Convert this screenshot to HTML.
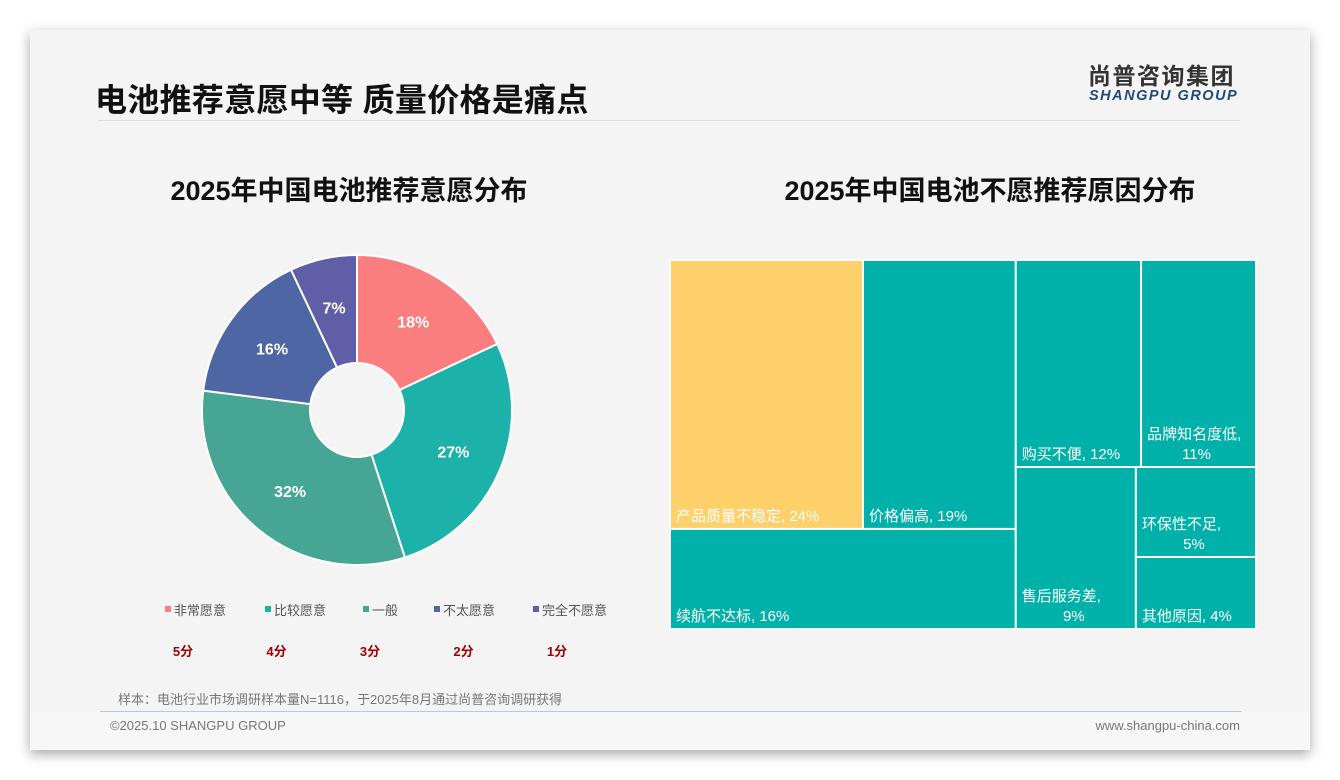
<!DOCTYPE html>
<html><head><meta charset="utf-8"><style>
body{margin:0;width:1340px;height:780px;background:#fff;overflow:hidden;font-family:"Liberation Sans","Noto Sans CJK SC",sans-serif;}
#card{position:absolute;left:30px;top:30px;width:1280px;height:720px;background:#f4f4f4;box-shadow:0 4px 12px rgba(0,0,0,0.35);}
.abs{position:absolute;}
</style></head><body>
<div id="card">
  <div class="abs" style="left:65px;top:45px;font-size:32px;font-weight:bold;color:#111;letter-spacing:0.3px;">电池推荐意愿中等 质量价格是痛点</div>
  <div class="abs" style="left:68px;top:90px;width:1142px;height:1px;background:#dcdcdc;"></div>
  <div class="abs" style="left:1058px;top:35px;font-size:23px;line-height:1;font-weight:bold;color:#333;letter-spacing:1.5px;">尚普咨询集团</div>
  <div class="abs" style="left:1059px;top:59px;font-size:14.5px;line-height:1;font-weight:bold;font-style:italic;color:#1f4a7a;letter-spacing:1.5px;">SHANGPU GROUP</div>
  <div class="abs" style="left:79px;top:139px;width:480px;text-align:center;font-size:27px;font-weight:bold;color:#111;">2025年中国电池推荐意愿分布</div>
  <div class="abs" style="left:710px;top:139px;width:500px;text-align:center;font-size:27px;font-weight:bold;color:#111;">2025年中国电池不愿推荐原因分布</div>
  <div class="abs" style="left:88px;top:659px;font-size:13px;color:#777;">样本：电池行业市场调研样本量N=1116，于2025年8月通过尚普咨询调研获得</div>
  <div class="abs" style="left:70px;top:681px;width:1142px;height:1px;background:#b9c9d8;"></div>
  <div class="abs" style="left:0;top:682px;width:1280px;height:38px;background:#f7f7f7;"></div>
  <div class="abs" style="left:80px;top:688px;font-size:13px;color:#777;">©2025.10 SHANGPU GROUP</div>
  <div class="abs" style="left:1040px;top:688px;width:170px;text-align:right;font-size:13px;color:#777;">www.shangpu-china.com</div>
</div>
<svg id="chart" class="abs" style="left:0;top:0" width="1340" height="780"></svg>
<script>
const pieCats=["非常愿意","比较愿意","一般","不太愿意","完全不愿意"];
const pieVals=[18,27,32,16,7];
const pieScores=["5分","4分","3分","2分","1分"];
const pieColors=["#fa7d80","#1db2a9","#47a593","#4e66a3","#605ea6"];
const tmCats=["产品质量不稳定","价格偏高","续航不达标","购买不便","品牌知名度低","售后服务差","环保性不足","其他原因"];
const tmVals=[24,19,16,12,11,9,5,4];
const NS="http://www.w3.org/2000/svg";
const svg=document.getElementById('chart');
function mk(t,a,p){const e=document.createElementNS(NS,t);for(const k in a)e.setAttribute(k,a[k]);(p||svg).appendChild(e);return e;}
const legendX=[165,265,363,434,533];
// pie
const cx=357,cy=410,R=155,r0=47;
const tot=pieVals.reduce((a,b)=>a+b,0);
let ang=0;
pieVals.forEach((v,i)=>{
  const a0=ang/tot*2*Math.PI, a1=(ang+v)/tot*2*Math.PI; ang+=v;
  const p=(a,rr)=>[cx+rr*Math.sin(a),cy-rr*Math.cos(a)];
  const [x0,y0]=p(a0,R),[x1,y1]=p(a1,R),[x2,y2]=p(a1,r0),[x3,y3]=p(a0,r0);
  const lg=(a1-a0)>Math.PI?1:0;
  const path=mk('path',{d:`M${x0},${y0}A${R},${R} 0 ${lg} 1 ${x1},${y1}L${x2},${y2}A${r0},${r0} 0 ${lg} 0 ${x3},${y3}Z`,fill:pieColors[i],stroke:'#fff','stroke-width':2});
  
  
  const am=(a0+a1)/2,[lx,ly]=p(am,105);
  const t=mk('text',{x:lx,y:ly+6,'text-anchor':'middle','font-size':16,'font-weight':'bold',fill:'#fff'});
  t.textContent=v+'%';
  
  
  const lxp=legendX[i];
  const sq=mk('rect',{x:lxp,y:606,width:6,height:6,fill:pieColors[i]});
  
  
  const lt=mk('text',{x:lxp+9,y:615,'font-size':13,fill:'#555'});
  lt.textContent=pieCats[i];
  
  
  const st=mk('text',{x:183+i*93.5,y:656,'text-anchor':'middle','font-size':13,'font-weight':'bold',fill:'#a00000'});
  st.textContent=pieScores[i];
  
  
});
// treemap
const X0=670,Y0=260,W=586,H=369;
const T=tmVals.reduce((a,b)=>a+b,0);
const rects=[];
const leftSum=tmVals[0]+tmVals[1]+tmVals[2];
const lw=W*leftSum/T;
const th=H*(tmVals[0]+tmVals[1])/leftSum;
const w0=lw*tmVals[0]/(tmVals[0]+tmVals[1]);
rects.push([X0,Y0,w0,th],[X0+w0,Y0,lw-w0,th],[X0,Y0+th,lw,H-th]);
const rs=T-leftSum, rw=W-lw, rx=X0+lw;
const rth=H*(tmVals[3]+tmVals[4])/rs;
const w3=rw*tmVals[3]/(tmVals[3]+tmVals[4]);
rects.push([rx,Y0,w3,rth],[rx+w3,Y0,rw-w3,rth]);
const bs=tmVals[5]+tmVals[6]+tmVals[7];
const w5=rw*tmVals[5]/bs, bh=H-rth;
const h6=bh*tmVals[6]/(tmVals[6]+tmVals[7]);
rects.push([rx,Y0+rth,w5,bh],[rx+w5,Y0+rth,rw-w5,h6],[rx+w5,Y0+rth+h6,rw-w5,bh-h6]);
rects.forEach((b,i)=>{
  const e=mk('rect',{x:b[0],y:b[1],width:b[2],height:b[3],fill:i==0?'#fdd06a':'#00b1a9',stroke:'#fff','stroke-width':2});
  
  
  const lbl=tmCats[i]+', '+tmVals[i]+'%';
  const twoLine=(15*tmCats[i].length+40)>(b[2]-10);
  const bot=b[1]+b[3];
  if(twoLine){
    const t1=mk('text',{x:b[0]+6,y:bot-28,'font-size':15,fill:'#fff'});t1.textContent=tmCats[i]+',';
    
    
    const t2=mk('text',{x:b[0]+b[2]/2-2,y:bot-8,'font-size':15,fill:'#fff','text-anchor':'middle'});t2.textContent=tmVals[i]+'%';
    
    
  } else {
    const t=mk('text',{x:b[0]+6,y:bot-8,'font-size':15,fill:'#fff'});t.textContent=lbl;
    
    
  }
});
</script>
</body></html>
